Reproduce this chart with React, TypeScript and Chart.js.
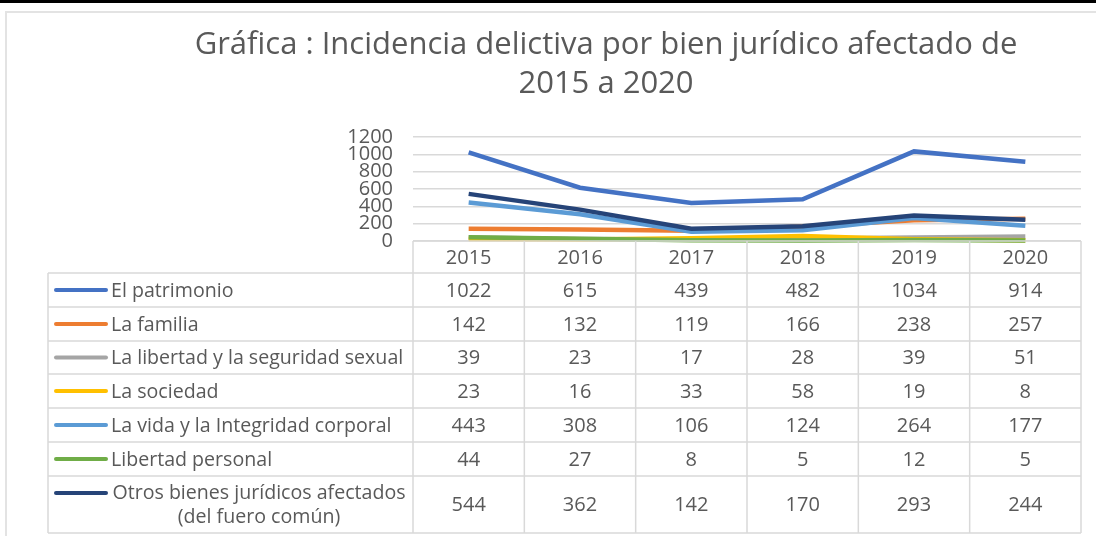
import React, { useEffect, useRef } from 'react';
import { Chart, registerables } from 'chart.js';

Chart.register(...registerables);

const titleLines = ['Gráfica : Incidencia delictiva por bien jurídico afectado de', '2015 a 2020'];
const years = ['2015', '2016', '2017', '2018', '2019', '2020'];
const yTickValues = [0, 200, 400, 600, 800, 1000, 1200];

const seriesLabels: string[][] = [
  ['El patrimonio'],
  ['La familia'],
  ['La libertad y la seguridad sexual'],
  ['La sociedad'],
  ['La vida y la Integridad corporal'],
  ['Libertad personal'],
  ['Otros bienes jurídicos afectados', '(del fuero común)'],
];

const patrimonio = [1022, 615, 439, 482, 1034, 914];
const familia = [142, 132, 119, 166, 238, 257];
const libertadSexual = [39, 23, 17, 28, 39, 51];
const sociedad = [23, 16, 33, 58, 19, 8];
const vidaIntegridad = [443, 308, 106, 124, 264, 177];
const libertadPersonal = [44, 27, 8, 5, 12, 5];
const otrosBienes = [544, 362, 142, 170, 293, 244];

const seriesValues = [patrimonio, familia, libertadSexual, sociedad, vidaIntegridad, libertadPersonal, otrosBienes];
const seriesColors = ['#4472C4', '#ED7D31', '#A5A5A5', '#FFC000', '#5B9BD5', '#70AD47', '#264478'];

const FONT = '"Open Sans", "Noto Sans", sans-serif';
const TEXT = '#595959';
const BORDER = '#D9D9D9';

const tablePlugin = {
  id: 'tablePlugin',
  afterDraw(chart: any) {
    const ctx = chart.ctx as CanvasRenderingContext2D;
    const area = chart.chartArea;
    const xs = chart.scales.x;
    const W = chart.width;
    const H = chart.height;
    ctx.save();

    // frame
    ctx.fillStyle = '#000';
    ctx.fillRect(0, 0, W, 3);
    ctx.strokeStyle = '#E3E3E3';
    ctx.lineWidth = 2;
    ctx.beginPath();
    ctx.moveTo(W, 12);
    ctx.lineTo(6, 12);
    ctx.lineTo(6, H);
    ctx.stroke();

    // title
    ctx.fillStyle = TEXT;
    ctx.font = `31px ${FONT}`;
    ctx.textAlign = 'center';
    ctx.textBaseline = 'middle';
    ctx.fillText(titleLines[0], 606, 45);
    ctx.fillText(titleLines[1], 606, 84);

    // table geometry
    const colW = (area.right - area.left) / years.length;
    const edges: number[] = [];
    for (let i = 0; i <= years.length; i++) {
      edges.push(i === years.length ? area.right : xs.getPixelForValue(i) - colW / 2);
    }
    const headerTop = area.bottom;
    const headerBottom = headerTop + 32;
    const rowHeights = [34, 34, 33, 34, 34, 34, 57];
    const rowTops = [headerBottom];
    rowHeights.forEach((h) => rowTops.push(rowTops[rowTops.length - 1] + h));
    const tableLeft = 48;
    const tableBottom = rowTops[rowTops.length - 1];

    ctx.strokeStyle = BORDER;
    ctx.lineWidth = 1.5;
    ctx.beginPath();
    ctx.moveTo(area.left, headerTop);
    ctx.lineTo(area.right, headerTop);
    edges.forEach((x) => {
      ctx.moveTo(x, headerTop);
      ctx.lineTo(x, tableBottom);
    });
    rowTops.forEach((y) => {
      ctx.moveTo(tableLeft, y);
      ctx.lineTo(area.right, y);
    });
    ctx.moveTo(tableLeft, headerBottom);
    ctx.lineTo(tableLeft, tableBottom);
    ctx.stroke();

    ctx.font = `20px ${FONT}`;
    ctx.fillStyle = TEXT;
    ctx.textAlign = 'center';
    years.forEach((yr, i) => {
      ctx.fillText(yr, xs.getPixelForValue(i), (headerTop + headerBottom) / 2 + 1);
    });

    seriesLabels.forEach((lbl, r) => {
      const yMid = (rowTops[r] + rowTops[r + 1]) / 2 + 1;
      const keyY = lbl.length > 1 ? rowTops[r] + 17 : yMid - 1;
      ctx.strokeStyle = seriesColors[r];
      ctx.lineWidth = 4;
      ctx.lineCap = 'round';
      ctx.beginPath();
      ctx.moveTo(56, keyY);
      ctx.lineTo(106, keyY);
      ctx.stroke();
      ctx.fillStyle = TEXT;
      ctx.font = `19.6px ${FONT}`;
      if (lbl.length > 1) {
        ctx.textAlign = 'center';
        ctx.fillText(lbl[0], 259, rowTops[r] + 17);
        ctx.fillText(lbl[1], 259, rowTops[r] + 41);
      } else {
        ctx.textAlign = 'left';
        ctx.fillText(lbl[0], 111, yMid);
      }
      ctx.font = `20px ${FONT}`;
      ctx.textAlign = 'center';
      seriesValues[r].forEach((v, i) => {
        ctx.fillText(String(v), xs.getPixelForValue(i), yMid);
      });
    });

    ctx.restore();
  },
};

export default function App() {
  const ref = useRef<HTMLCanvasElement | null>(null);
  useEffect(() => {
    if (!ref.current) return;
    const chart = new Chart(ref.current, {
      type: 'line',
      data: {
        labels: years,
        datasets: seriesLabels.map((lbl, i) => ({
          label: lbl.join(' '),
          data: seriesValues[i],
          borderColor: seriesColors[i],
          backgroundColor: seriesColors[i],
          borderWidth: 4.5,
          pointRadius: 0,
          tension: 0,
          clip: false as any,
          order: seriesLabels.length - i,
        })),
      },
      options: {
        responsive: false,
        animation: false,
        layout: { padding: { left: 0, right: 15, top: 137, bottom: 295 } },
        plugins: { legend: { display: false }, title: { display: false }, tooltip: { enabled: false } },
        scales: {
          x: { display: false, offset: true },
          y: {
            min: 0,
            max: 1200,
            afterBuildTicks: (scale: any) => {
              scale.ticks = yTickValues.map((v) => ({ value: v }));
            },
            afterFit: (scale: any) => {
              scale.width = 413;
            },
            border: { display: false },
            grid: { color: BORDER, lineWidth: 1.5, drawTicks: false },
            ticks: {
              color: TEXT,
              padding: 20,
              autoSkip: false,
              font: { family: FONT, size: 20, lineHeight: 1 },
              callback: (v: any) => String(v),
            },
          },
        },
      },
      plugins: [tablePlugin],
    });
    return () => chart.destroy();
  }, []);
  return (
    <div style={{ position: 'fixed', left: 0, top: 0, width: 1096, height: 536, background: '#fff' }}>
      <canvas ref={ref} width={1096} height={536} style={{ width: 1096, height: 536, display: 'block' }} />
    </div>
  );
}
